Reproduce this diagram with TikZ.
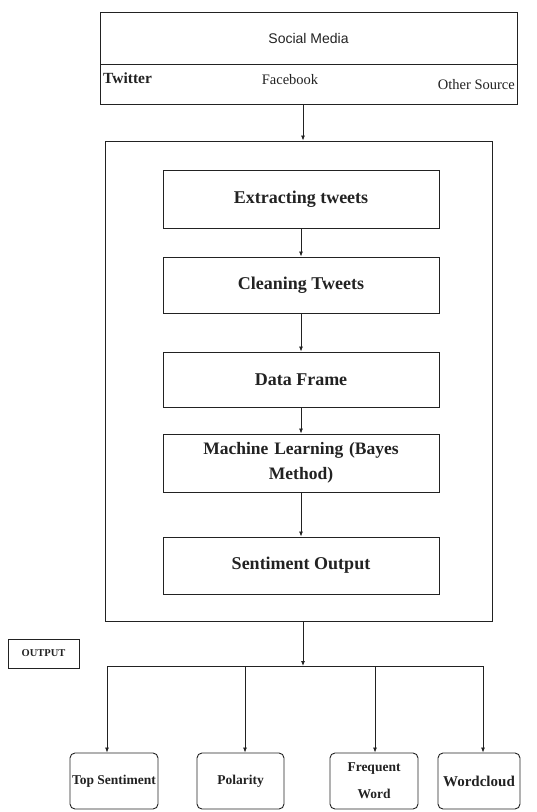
\documentclass[tikz,border=0pt]{standalone}
\usepackage{fontspec}
\setmainfont{Liberation Serif}
\newfontfamily\smfont{Liberation Sans}
\usetikzlibrary{arrows.meta}
\definecolor{ink}{HTML}{222222}
\tikzset{
  box/.style={draw=ink, line width=0.9pt, rectangle, minimum width=276pt, inner sep=2pt,
    font=\fontsize{18}{20}\selectfont\bfseries, text=ink, align=center},
  outbox/.style={draw=ink, line width=0.9pt, rectangle, rounded corners=5pt, minimum width=86pt,
    minimum height=56pt, inner sep=1pt, font=\fontsize{13.5}{15}\selectfont\bfseries, text=ink, align=center},
  conn/.style={draw=ink, line width=0.8pt},
  arr/.style={conn, -{Latex[length=5pt,width=4pt]}},
}
\begin{document}
\begin{tikzpicture}[x=1pt,y=-1pt]
\useasboundingbox (0,0) rectangle (536,812);
% social media box
\node[draw=ink, line width=0.9pt, minimum width=417pt, minimum height=52pt, inner sep=0pt,
  font=\smfont\fontsize{14}{16}\selectfont, text=ink] (sm) at (308.5,38) {Social Media};
\node[draw=ink, line width=0.9pt, minimum width=417pt, minimum height=40pt, inner sep=0pt] (src) at (308.5,84) {};
\node[anchor=west, inner sep=1pt, font=\fontsize{15.5}{17}\selectfont\bfseries, text=ink] (tw) at (102,78) {Twitter};
\node[font=\fontsize{14.5}{16}\selectfont, text=ink] (fb) at (290,80) {Facebook};
\node[anchor=east, inner sep=1pt, font=\fontsize{14.5}{16}\selectfont, text=ink] (os) at (516,85) {Other Source};
% outer process box
\node[draw=ink, line width=0.9pt, minimum width=387pt, minimum height=480pt, inner sep=0pt] (proc) at (298.5,381) {};
\draw[arr] (src.south -| proc.north) ++(4.5,0) coordinate (srcb) -- (srcb |- proc.north);
% inner boxes
\node[box, minimum height=58pt] (ext) at (301,199) {Extracting tweets};
\node[box, minimum height=56pt] (cln) at (301,285) {Cleaning Tweets};
\node[box, minimum height=55pt] (df) at (301,379.5) {Data Frame};
\node[box, minimum height=58pt, text width=220pt, font=\fontsize{17.5}{25}\selectfont\bfseries] (ml) at (301,463) {Machine Learning (Bayes\\ Method)};
\node[box, minimum height=57pt] (so) at (301,565.5) {Sentiment Output};
\draw[arr] (ext) -- (cln);
\draw[arr] (cln) -- (df);
\draw[arr] (df) -- (ml);
\draw[arr] (ml) -- (so);
% output label
\node[draw=ink, line width=0.9pt, minimum width=71pt, minimum height=29pt, inner sep=0pt,
  font=\fontsize{10.5}{12}\selectfont\bfseries, text=ink] (outlbl) at (43.5,653.5) {OUTPUT};
% output boxes
\node[outbox, minimum width=88pt] (top) at (114,781) {Top Sentiment};
\node[outbox, minimum width=87pt] (pol) at (240.5,781) {Polarity};
\node[outbox, minimum width=88pt, font=\fontsize{13.5}{27}\selectfont\bfseries] (frq) at (374,781) {Frequent\\Word};
\node[outbox, minimum width=82pt, font=\fontsize{15}{17}\selectfont\bfseries] (wc) at (479,781) {Wordcloud};
\coordinate (j) at (303,666);
\coordinate (jl) at (107,666);
\coordinate (jp) at (245,666);
\coordinate (jf) at (375,666);
\coordinate (jr) at (483,666);
\draw[arr] (proc.south -| j) -- (j);
\draw[conn] (jl) -- (jr);
\draw[arr] (jl) -- (jl |- top.north);
\draw[arr] (jp) -- (jp |- pol.north);
\draw[arr] (jf) -- (jf |- frq.north);
\draw[arr] (jr) -- (jr |- wc.north);
\end{tikzpicture}
\end{document}
